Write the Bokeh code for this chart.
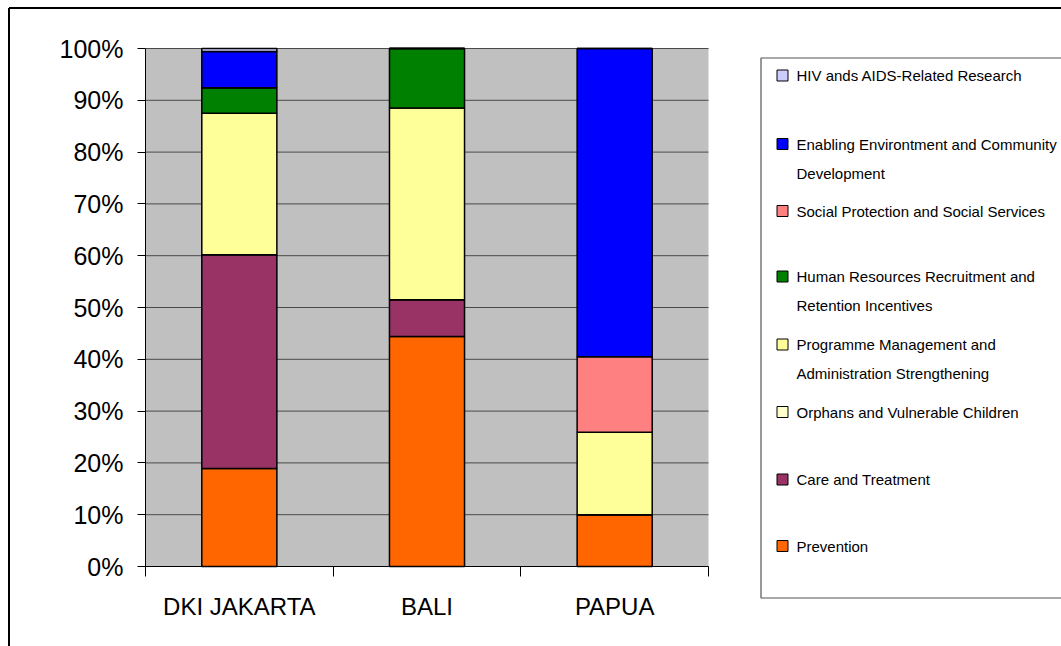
from bokeh.plotting import figure
from bokeh.models import (ColumnDataSource, Range1d, FixedTicker, PrintfTickFormatter,
                          LinearAxis)
from bokeh.core.properties import value
from bokeh.embed import file_html
from bokeh.resources import INLINE

# ---- data: share of HIV/AIDS spending by programme area (%), per province ----
provinces = ["DKI JAKARTA", "BALI", "PAPUA"]

prevention = [18.9, 44.4, 10.0]
care_treatment = [41.3, 7.1, 0.0]
orphans_children = [0.0, 0.0, 0.0]
programme_mgmt = [27.3, 37.0, 15.9]
human_resources = [4.9, 11.5, 0.0]
social_protection = [0.0, 0.0, 14.6]
enabling_env = [7.0, 0.0, 59.5]
research = [0.6, 0.0, 0.0]

# stacking order, bottom to top
series_keys = ["prevention", "care", "orphans", "pm", "hr", "social", "enabling", "research"]
series_values = [prevention, care_treatment, orphans_children, programme_mgmt,
                 human_resources, social_protection, enabling_env, research]
series_colors = ["#FF6600", "#993366", "#FFFFCC", "#FFFF99",
                 "#008000", "#FF8080", "#0000FF", "#CCCCFF"]
series_labels = [
    ["Prevention"],
    ["Care and Treatment"],
    ["Orphans and Vulnerable Children"],
    ["Programme Management and", "Administration Strengthening"],
    ["Human Resources Recruitment and", "Retention Incentives"],
    ["Social Protection and Social Services"],
    ["Enabling Environtment and Community", "Development"],
    ["HIV ands AIDS-Related Research"],
]

y_ticks = list(range(0, 101, 10))

# ---- page geometry (pixels) ----
W, H = 1061, 646
FL, FR, FT, FB = 145, 708, 48, 566   # plot area edges

n = len(provinces)
x_per_px = n / (FR - FL)
y_per_px = 100.0 / (FB - FT)
x_range = Range1d(-FL * x_per_px, (W - FL) * x_per_px)
y_range = Range1d(-(H - FB) * y_per_px, 100.0 + FT * y_per_px)

data = {"x": [i + 0.5 for i in range(n)]}
for k, v in zip(series_keys, series_values):
    data[k] = v
source = ColumnDataSource(data)

p = figure(width=W, height=H, output_backend="svg", toolbar_location=None,
           x_range=x_range, y_range=y_range, x_axis_type=None, y_axis_type=None,
           min_border=0)
p.background_fill_color = "white"
p.border_fill_color = "white"
p.outline_line_color = None
p.grid.visible = False

# pixel-space ranges for the chart furniture (legend, border)
p.extra_x_ranges = {"px": Range1d(0, W)}
p.extra_y_ranges = {"px": Range1d(H, 0)}

# plot area: grey panel with horizontal gridlines
p.quad(left=0, right=n, bottom=0, top=100, fill_color="#C0C0C0", line_color=None)
p.segment(x0=[0] * len(y_ticks), x1=[n] * len(y_ticks), y0=y_ticks, y1=y_ticks,
          line_color="#4a4a4a", line_width=1)

p.vbar_stack(series_keys, x="x", width=0.4, source=source, color=series_colors,
             line_color="black", line_width=1.5)

# axes
yax = LinearAxis(fixed_location=0, bounds=(0, 100))
yax.ticker = FixedTicker(ticks=y_ticks)
yax.formatter = PrintfTickFormatter(format="%d%%")
yax.major_tick_in = 0
yax.major_tick_out = 8
yax.minor_tick_line_color = None
yax.axis_line_color = "black"
yax.major_tick_line_color = "black"
yax.major_label_standoff = 14
yax.major_label_text_font = "Liberation Sans"
yax.major_label_text_font_size = "25px"
yax.major_label_text_color = "black"
p.add_layout(yax, "left")

xax = LinearAxis(fixed_location=0, bounds=(0, n))
xax.ticker = FixedTicker(ticks=data["x"], minor_ticks=list(range(n + 1)))
xax.major_label_overrides = {xv: name for xv, name in zip(data["x"], provinces)}
xax.major_tick_line_color = None
xax.minor_tick_in = 0
xax.minor_tick_out = 10
xax.minor_tick_line_color = "black"
xax.axis_line_color = "black"
xax.major_label_standoff = 16
xax.major_label_text_font = "Liberation Sans"
xax.major_label_text_font_size = "24px"
xax.major_label_text_color = "black"
p.add_layout(xax, "below")

# outer chart border (top and left edges visible)
p.multi_line(xs=[[8.5, W + 5], [8.5, 8.5]], ys=[[7.5, 7.5], [7.5, H + 5]],
             line_color="black", line_width=2, x_range_name="px", y_range_name="px")

# legend frame
p.multi_line(xs=[[W + 5, 760.5, 760.5, W + 5]], ys=[[57.5, 57.5, 597.5, 597.5]],
             line_color="#555555", line_width=1.2, x_range_name="px", y_range_name="px")

# legend entries, listed top to bottom
row_y = [75, 143.5, 210.5, 276, 344, 411.5, 479, 545.5]
line_gap = 29
order = list(reversed(range(len(series_keys))))
p.quad(left=[776.5] * len(order), right=[787.5] * len(order),
       top=[yc - 5.5 for yc in row_y], bottom=[yc + 5.5 for yc in row_y],
       fill_color=[series_colors[i] for i in order], line_color="black", line_width=1,
       x_range_name="px", y_range_name="px")

tx, ty, tt = [], [], []
for yc, idx in zip(row_y, order):
    for j, line in enumerate(series_labels[idx]):
        tx.append(796)
        ty.append(yc + j * line_gap)
        tt.append(line)
p.text(x=tx, y=ty, text=tt, text_font=value("Liberation Sans"), text_font_size="15px",
       text_baseline="middle", text_align="left", text_color="black",
       x_range_name="px", y_range_name="px")

open("out.html", "w").write(file_html(p, INLINE))
